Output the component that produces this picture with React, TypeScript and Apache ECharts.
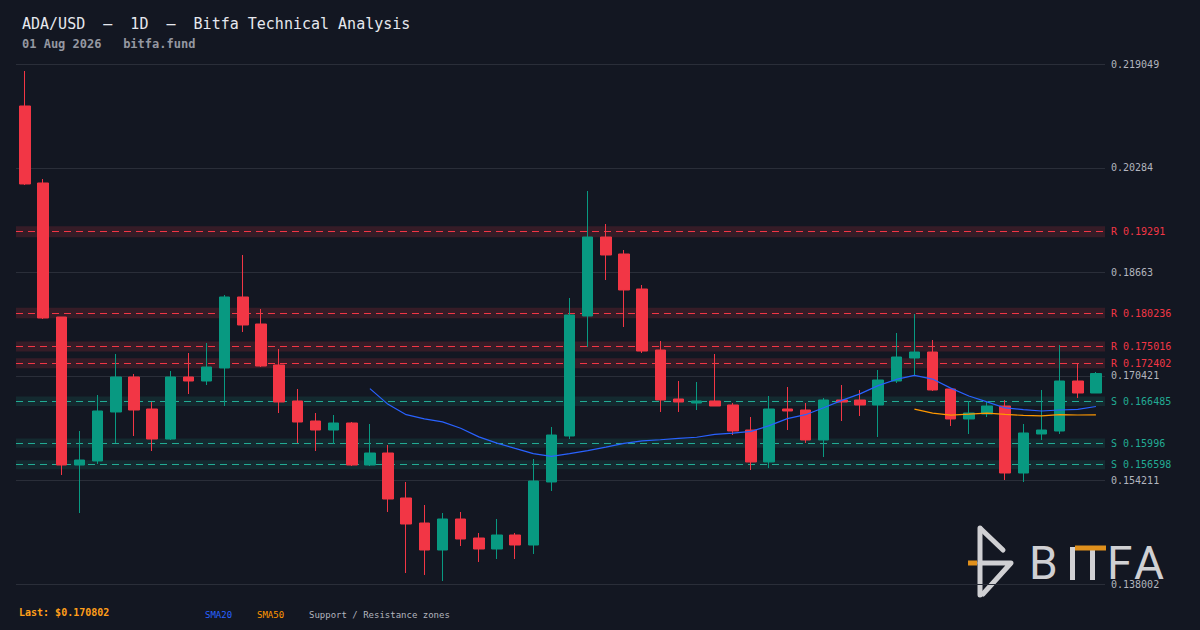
import React, { useEffect, useRef } from "react";
import * as echarts from "echarts";

const categories = [
  "06-03","06-04","06-05","06-06","06-07","06-08","06-09","06-10","06-11","06-12",
  "06-13","06-14","06-15","06-16","06-17","06-18","06-19","06-20","06-21","06-22",
  "06-23","06-24","06-25","06-26","06-27","06-28","06-29","06-30","07-01","07-02",
  "07-03","07-04","07-05","07-06","07-07","07-08","07-09","07-10","07-11","07-12",
  "07-13","07-14","07-15","07-16","07-17","07-18","07-19","07-20","07-21","07-22",
  "07-23","07-24","07-25","07-26","07-27","07-28","07-29","07-30","07-31","08-01",
];

const opens = [
  0.212503, 0.200502, 0.179616, 0.156549, 0.157173, 0.16481, 0.170265, 0.165277, 0.160601, 0.170265,
  0.169641, 0.171668, 0.182734, 0.178525, 0.172135, 0.166524, 0.163407, 0.162004, 0.163095, 0.156549,
  0.158419, 0.151406, 0.147509, 0.143301, 0.148133, 0.145171, 0.143457, 0.145639, 0.14408, 0.1539,
  0.161069, 0.179772, 0.192085, 0.189436, 0.18398, 0.174473, 0.166836, 0.166212, 0.166524, 0.165901,
  0.162004, 0.157017, 0.165277, 0.165121, 0.160446, 0.16668, 0.16668, 0.165901, 0.169641, 0.173226,
  0.174161, 0.168394, 0.163719, 0.164498, 0.165745, 0.155302, 0.161381, 0.161848, 0.169641, 0.167771,
];
const closes = [
  0.200346, 0.179461, 0.156549, 0.157328, 0.164966, 0.170265, 0.165121, 0.160601, 0.170265, 0.169641,
  0.171823, 0.182734, 0.17837, 0.171979, 0.166368, 0.163251, 0.162004, 0.163095, 0.156549, 0.158419,
  0.15125, 0.147353, 0.143301, 0.148133, 0.145015, 0.143457, 0.145639, 0.14408, 0.154055, 0.161225,
  0.179928, 0.192085, 0.18928, 0.183825, 0.174317, 0.16668, 0.166368, 0.166524, 0.165745, 0.161848,
  0.157017, 0.165277, 0.164966, 0.160446, 0.16668, 0.166368, 0.165901, 0.169797, 0.173382, 0.174161,
  0.168239, 0.163719, 0.164654, 0.165745, 0.155302, 0.161537, 0.162004, 0.169641, 0.167771, 0.170802,
];
const lows = [
  0.20019, 0.179305, 0.154991, 0.149068, 0.156705, 0.159978, 0.161069, 0.158731, 0.160446, 0.167615,
  0.169018, 0.165745, 0.177279, 0.171823, 0.164654, 0.159978, 0.158731, 0.159822, 0.156393, 0.156393,
  0.149224, 0.139716, 0.139405, 0.138469, 0.143924, 0.141431, 0.141898, 0.141898, 0.142678, 0.152497,
  0.160601, 0.174941, 0.185383, 0.178058, 0.174005, 0.16481, 0.16481, 0.165121, 0.165745, 0.161225,
  0.15577, 0.156082, 0.162004, 0.159978, 0.157796, 0.163407, 0.164186, 0.160913, 0.16933, 0.170421,
  0.168083, 0.162628, 0.161381, 0.16403, 0.154211, 0.1539, 0.160446, 0.161381, 0.166992, 0.167771,
];
const highs = [
  0.217958, 0.201125, 0.179616, 0.161848, 0.167459, 0.17385, 0.170732, 0.166368, 0.1712, 0.174005,
  0.175564, 0.183045, 0.18928, 0.180863, 0.174629, 0.168394, 0.164654, 0.164342, 0.163251, 0.162939,
  0.159666, 0.1539, 0.150315, 0.149068, 0.149224, 0.145951, 0.148133, 0.145951, 0.157484, 0.162472,
  0.182578, 0.199255, 0.194111, 0.190059, 0.184604, 0.175876, 0.169641, 0.169486, 0.17385, 0.166212,
  0.16403, 0.167303, 0.168706, 0.166212, 0.166992, 0.169018, 0.168239, 0.171356, 0.177123, 0.180084,
  0.176032, 0.168394, 0.166524, 0.166524, 0.16668, 0.162939, 0.168239, 0.175252, 0.172291, 0.171044,
];

// moving averages as drawn (first value at candle 20 and candle 50)
const sma20Offset = 19;
const sma20Values = [
  0.168457, 0.166002, 0.164397, 0.163734, 0.163274, 0.162277, 0.160936, 0.159962, 0.159136, 0.158326,
  0.157905, 0.15831, 0.158778, 0.159323, 0.159916, 0.160313, 0.160485, 0.160703, 0.160874, 0.161334,
  0.161505, 0.161794, 0.16269, 0.163773, 0.164389, 0.165472, 0.166618, 0.167631, 0.168917, 0.169883,
  0.17053, 0.169945, 0.168527, 0.167296, 0.166392, 0.165441, 0.165184, 0.164966, 0.165121, 0.165223,
  0.16567,
];
const sma50Offset = 49;
const sma50Values = [
  0.165265, 0.164623, 0.164308, 0.16447, 0.164638, 0.164445, 0.16427, 0.164208, 0.164389, 0.164339,
  0.164362,
];

const resistanceLevels = [0.19291, 0.180236, 0.175016, 0.172402];
const supportLevels = [0.166485, 0.15996, 0.156598];
const zoneHalfWidth = 0.0045; // fraction of the level

const tickValues = [0.219049, 0.20284, 0.18663, 0.170421, 0.154211, 0.138002];
const tickLabels = ["0.219049", "0.20284", "0.18663", "0.170421", "0.154211", "0.138002"];
const lastPrice = "0.170802";

const MONO = "'DejaVu Sans Mono', 'Liberation Mono', monospace";
const BG = "#131722";
const UP = "#089981";
const DOWN = "#f23645";
const SUP = "#22ab94";

export default function App() {
  const ref = useRef<HTMLDivElement>(null);

  useEffect(() => {
    if (!ref.current) return;
    const chart = echarts.init(ref.current, undefined, { renderer: "svg" });

    const pad = (offset: number, vals: number[]) => {
      const arr: (number | null)[] = [];
      for (let i = 0; i < offset; i++) arr.push(null);
      return arr.concat(vals);
    };

    const candleData = categories.map((_, i) => [opens[i], closes[i], lows[i], highs[i]]);

    const gridLines = tickValues.map((v, i) => ({
      yAxis: v,
      lineStyle: { color: "#2a2e39", type: "solid", width: 1 },
      label: { formatter: tickLabels[i], color: "#b2b5be" },
    }));
    const levelLines = [
      ...resistanceLevels.map((v) => ({
        yAxis: v,
        lineStyle: { color: DOWN, type: [7, 5], width: 1.2 },
        label: { formatter: "R " + v, color: DOWN },
      })),
      ...supportLevels.map((v) => ({
        yAxis: v,
        lineStyle: { color: SUP, type: [7, 5], width: 1.2 },
        label: { formatter: "S " + v, color: SUP },
      })),
    ];
    const zones = [
      ...resistanceLevels.map((v) => [
        { yAxis: v * (1 - zoneHalfWidth), itemStyle: { color: "rgba(242,54,69,0.16)" } },
        { yAxis: v * (1 + zoneHalfWidth) },
      ]),
      ...supportLevels.map((v) => [
        { yAxis: v * (1 - zoneHalfWidth), itemStyle: { color: "rgba(34,171,148,0.13)" } },
        { yAxis: v * (1 + zoneHalfWidth) },
      ]),
    ];

    const markLabel = {
      show: true,
      position: "end",
      distance: 6,
      fontFamily: MONO,
      fontSize: 10,
    };

    const logoStroke = "#d0d0d3";

    chart.setOption({
      animation: false,
      backgroundColor: BG,
      grid: { left: 16, right: 95, top: 64, bottom: 46 },
      xAxis: {
        type: "category",
        data: categories,
        boundaryGap: true,
        show: false,
      },
      yAxis: {
        type: "value",
        position: "right",
        min: 0.138002,
        max: 0.219049,
        axisLine: { show: false },
        axisTick: { show: false },
        axisLabel: { show: false },
        splitLine: { show: false },
      },
      series: [
        {
          name: "grid",
          type: "line",
          data: categories.map(() => null),
          silent: true,
          z: 1,
          symbol: "none",
          markLine: {
            silent: true,
            z: 1,
            precision: 6,
            symbol: ["none", "none"],
            label: markLabel,
            data: gridLines,
          },
        },
        {
          name: "zones",
          type: "line",
          data: categories.map(() => null),
          silent: true,
          z: 1,
          symbol: "none",
          markArea: { silent: true, z: 1, data: zones },
          markLine: {
            silent: true,
            z: 2,
            precision: 6,
            symbol: ["none", "none"],
            label: markLabel,
            data: levelLines,
          },
        },
        {
          name: "ADA/USD",
          type: "candlestick",
          data: candleData,
          barWidth: 11,
          z: 3,
          itemStyle: {
            color: UP,
            color0: DOWN,
            borderColor: UP,
            borderColor0: DOWN,
            borderWidth: 1,
          },
        },
        {
          name: "SMA20",
          type: "line",
          data: pad(sma20Offset, sma20Values),
          symbol: "none",
          z: 4,
          lineStyle: { color: "#2962ff", width: 1.2 },
        },
        {
          name: "SMA50",
          type: "line",
          data: pad(sma50Offset, sma50Values),
          symbol: "none",
          z: 4,
          lineStyle: { color: "#ff9800", width: 1.2 },
        },
      ],
      graphic: [
        {
          type: "text",
          left: 22,
          top: 16,
          style: {
            text: "ADA/USD  –  1D  –  Bitfa Technical Analysis",
            fill: "#e6e8ee",
            font: "15px " + MONO,
          },
        },
        {
          type: "text",
          left: 22,
          top: 38,
          style: {
            text: "01 Aug 2026   bitfa.fund",
            fill: "#9598a1",
            font: "bold 12px " + MONO,
          },
        },
        {
          type: "text",
          left: 19,
          top: 607,
          style: {
            text: "Last: $" + lastPrice,
            fill: "#ff9f1a",
            font: "bold 10px " + MONO,
          },
        },
        {
          type: "text",
          left: 205,
          top: 610,
          style: { text: "SMA20", fill: "#2962ff", font: "9px " + MONO },
        },
        {
          type: "text",
          left: 257,
          top: 610,
          style: { text: "SMA50", fill: "#ff9800", font: "9px " + MONO },
        },
        {
          type: "text",
          left: 309,
          top: 610,
          style: { text: "Support / Resistance zones", fill: "#b2b5be", font: "9px " + MONO },
        },
        // BITFA watermark logo
        {
          type: "group",
          z: 0,
          children: [
            {
              type: "line",
              shape: { x1: 980, y1: 528, x2: 980, y2: 595 },
              style: { stroke: logoStroke, lineWidth: 5, lineCap: "round" },
            },
            {
              type: "line",
              shape: { x1: 981, y1: 529, x2: 1003, y2: 550 },
              style: { stroke: logoStroke, lineWidth: 5, lineCap: "round" },
            },
            {
              type: "polyline",
              shape: { points: [[980, 563], [1011, 563], [983, 594]] },
              style: { stroke: logoStroke, lineWidth: 5, lineCap: "round", lineJoin: "round", fill: null },
            },
            {
              type: "line",
              shape: { x1: 968, y1: 563, x2: 977, y2: 563 },
              style: { stroke: "#e0901c", lineWidth: 5 },
            },
            {
              type: "text",
              x: 1029,
              y: 563,
              style: { text: "B", fill: logoStroke, font: "46px Roboto", verticalAlign: "middle", lineHeight: 34 },
            },
            {
              type: "rect",
              shape: { x: 1070, y: 547, width: 5, height: 33 },
              style: { fill: logoStroke },
            },
            {
              type: "rect",
              shape: { x: 1090, y: 550, width: 5, height: 30 },
              style: { fill: logoStroke },
            },
            {
              type: "rect",
              shape: { x: 1075, y: 545.5, width: 31, height: 5 },
              style: { fill: "#e0901c" },
            },
            {
              type: "text",
              x: 1107,
              y: 563,
              style: { text: "F", fill: logoStroke, font: "46px Roboto", verticalAlign: "middle", lineHeight: 34 },
            },
            {
              type: "text",
              x: 1134,
              y: 563,
              style: { text: "A", fill: logoStroke, font: "46px Roboto", verticalAlign: "middle", lineHeight: 34 },
            },
          ],
        },
      ],
    });

    return () => chart.dispose();
  }, []);

  return (
    <div
      ref={ref}
      style={{ position: "fixed", left: 0, top: 0, width: 1200, height: 630, background: BG }}
    />
  );
}
